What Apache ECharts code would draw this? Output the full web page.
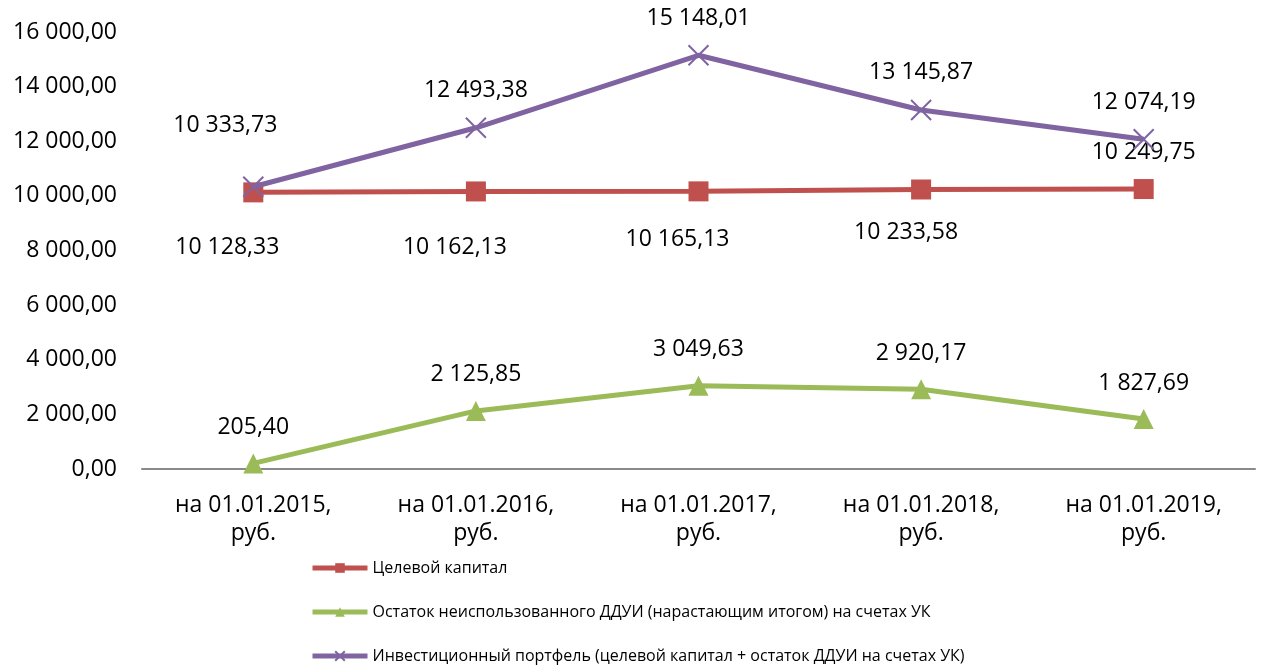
<!DOCTYPE html>
<html>
<head>
<meta charset="utf-8">
<script src="https://cdn.jsdelivr.net/npm/echarts@6/dist/echarts.min.js"></script>
<style>
  html, body { margin: 0; padding: 0; background: #fff; }
  #chart { width: 1262px; height: 666px; }
</style>
</head>
<body>
<div id="chart"></div>
<script>
// данные графика
var categories = [
  'на 01.01.2015,\nруб.',
  'на 01.01.2016,\nруб.',
  'на 01.01.2017,\nруб.',
  'на 01.01.2018,\nруб.',
  'на 01.01.2019,\nруб.'
];
var seriesNames = [
  'Целевой капитал',
  'Остаток неиспользованного ДДУИ (нарастающим итогом) на счетах УК',
  'Инвестиционный портфель (целевой капитал + остаток ДДУИ на счетах УК)'
];
var targetCapital = [10128.33, 10162.13, 10165.13, 10233.58, 10249.75];
var ddui = [205.40, 2125.85, 3049.63, 2920.17, 1827.69];
var portfolio = [10333.73, 12493.38, 15148.01, 13145.87, 12074.19];

var FONT = '"Open Sans", "Noto Sans", sans-serif';

function fmt(v) {
  var parts = Number(v).toFixed(2).split('.');
  var int = parts[0].replace(/\B(?=(\d{3})+(?!\d))/g, ' ');
  return int + ',' + parts[1];
}

// сдвиги подписей (как в исходной диаграмме)
var redOffsets = [[-26, 55], [-21, 56], [-21, 48], [-15, 43], [0, -37]];
var greenOffsets = [[0, -36], [0, -36], [0, -36], [0, -36], [0, -36]];
var purpleOffsets = [[-28, -61], [0, -37], [0, -37], [0, -38], [0, -37]];

function withLabels(values, offsets) {
  return values.map(function (v, i) {
    return {
      value: v,
      label: { offset: offsets[i] }
    };
  });
}

var labelBase = {
  show: true,
  position: 'inside',
  align: 'center',
  verticalAlign: 'middle',
  color: '#000',
  fontSize: 23,
  fontFamily: FONT,
  formatter: function (p) { return fmt(p.value); }
};

function legendRow(name, top) {
  return {
    orient: 'vertical',
    left: 305,
    top: top,
    itemWidth: 55,
    itemHeight: 12,
    itemGap: 0,
    lineStyle: { width: 5 },
    textStyle: {
      fontSize: 16,
      fontFamily: FONT,
      color: '#000'
    },
    data: [name]
  };
}

var chart = echarts.init(document.getElementById('chart'), null, { renderer: 'canvas' });

var option = {
  animation: false,
  grid: {
    left: 142,
    right: 7,
    top: 32,
    bottom: 197,
    containLabel: false
  },
  legend: [
    legendRow(seriesNames[0], 555),
    legendRow(seriesNames[1], 599),
    legendRow(seriesNames[2], 643)
  ],
  xAxis: {
    type: 'category',
    data: categories,
    boundaryGap: true,
    axisLine: { lineStyle: { color: '#8a8a8a', width: 2 } },
    axisTick: { show: false },
    axisLabel: {
      fontSize: 23,
      fontFamily: FONT,
      color: '#000',
      lineHeight: 28,
      margin: 22
    },
    splitLine: { show: false }
  },
  yAxis: {
    type: 'value',
    min: 0,
    max: 16000,
    interval: 2000,
    axisLine: { show: false },
    axisTick: { show: false },
    splitLine: { show: false },
    axisLabel: {
      fontSize: 23,
      fontFamily: FONT,
      color: '#000',
      margin: 25,
      formatter: function (v) { return fmt(v); }
    }
  },
  series: [
    {
      name: seriesNames[0],
      type: 'line',
      data: withLabels(targetCapital, redOffsets),
      symbol: 'rect',
      symbolSize: 20,
      lineStyle: { color: '#c0504d', width: 5 },
      itemStyle: { color: '#c0504d' },
      label: labelBase,
      z: 2
    },
    {
      name: seriesNames[1],
      type: 'line',
      data: withLabels(ddui, greenOffsets),
      symbol: 'triangle',
      symbolSize: 20,
      lineStyle: { color: '#9bbb59', width: 5 },
      itemStyle: { color: '#9bbb59' },
      label: labelBase,
      z: 3
    },
    {
      name: seriesNames[2],
      type: 'line',
      data: withLabels(portfolio, purpleOffsets),
      symbol: 'path://M0,0L10,10M10,0L0,10',
      symbolSize: 20,
      lineStyle: { color: '#8064a2', width: 5 },
      itemStyle: { color: '#8064a2', borderColor: '#8064a2', borderWidth: 2 },
      label: labelBase,
      z: 4
    }
  ]
};

chart.setOption(option);
</script>
</body>
</html>
